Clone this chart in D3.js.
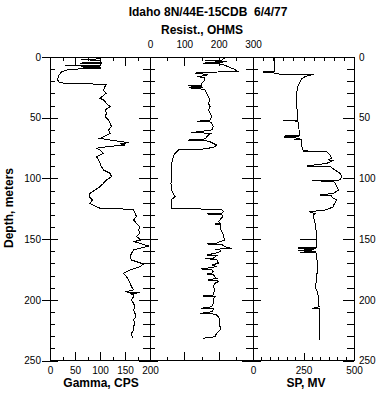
<!DOCTYPE html>
<html><head><meta charset="utf-8">
<script src="https://cdn.jsdelivr.net/npm/d3@7"></script>
<style>
body{margin:0;background:#fff;}
svg{display:block;}
text{font-family:"Liberation Sans",Arial,sans-serif;fill:#000;}
</style></head><body>
<svg id="c" width="378" height="393"></svg>
<script>
// ---------- data ----------
const chartTitle = "Idaho 8N/44E-15CDB  6/4/77";
const depthTicks = [0, 50, 100, 150, 200, 250];
const gammaTicks = [0, 50, 100, 150, 200];
const resistTicks = [0, 100, 200, 300];
const spTicks = [0, 250, 500];

const gammaDepth = [0,0.4,1.5,2.2,2.8,4.5,5,5.5,6.6,7.2,7.6,8.2,8.6,9.3,10.1,12.1,15.7,19,20.9,21.7,22.5,24.4,27.2,29.9,34,35.4,38.1,40.9,43.7,46.4,49.2,51.9,54.6,57.4,60.1,62.9,65.6,67,68.4,70.6,71.5,72.5,73.9,75.2,76.6,79.3,82.1,84.8,87.6,90.4,93.1,95.8,98.6,101.3,104,106.8,109.6,112.3,115.1,117.8,120.5,123.3,124.6,125.5,128.8,131.5,134.3,137,139.8,142.5,145.2,148,150.7,152.1,153.5,155.7,157.6,159,161.7,164.5,167.2,170.5,172.7,175.5,178.2,181,183.7,186.4,189.2,191.9,193.5,194.1,195,196,197.4,200.2,202.9,205.7,208.4,211.2,213.9,216.6,219.4,222.1,224.9,227.6,231.7];
const gammaCPS = [52,98,100,62,100,102,60,103,100,30,100,62,100,100,40,23,17,15,19,30,113,110,107,112,100,107,113,120,110,113,110,117,120,123,117,120,107,100,120,157,140,150,113,93,100,107,93,97,100,103,107,120,123,113,107,100,90,80,78,85,80,93,100,167,170,173,167,173,180,177,180,173,183,167,180,197,180,167,163,160,163,187,180,160,147,153,157,160,163,167,150,180,160,167,167,163,167,170,167,170,172,167,170,167,167,163,165];

const resistDepth = [0,1.2,2.5,3,3.5,4,4.6,5.2,5.8,6.6,8,10,12.1,12.6,13.5,14.3,15.2,16.2,17,19,21,23.1,23.5,24,24.8,25.3,25.8,26.5,27.2,29.9,32.7,35.4,38.1,40.9,43.7,46.4,49.2,51.9,53,53.6,54.6,57.4,60.1,62.3,62.8,64.3,66,67.5,68.4,69,69.8,72.5,73.9,75.2,76,76.6,79.3,82.1,87.6,93.1,98.6,104,109.6,112.3,115.1,117.8,120.5,124.8,125.5,127.4,128.9,129.3,129.7,131.5,135.6,137,137.6,138.2,139.8,142.5,145.2,148,150.7,152.1,153.5,154,154.5,156.2,157.6,158.4,159,160.4,161.7,163.1,163.6,165.8,166.2,166.7,169.9,171.3,172.7,174.6,175.2,176.8,178.2,178.7,179.3,181,182.3,183.7,184.3,185.1,186.4,189.2,191.9,194.6,196,196.9,197.4,200.2,202.9,205.7,207,207.5,208.4,209.8,211.2,211.8,212.5,213.9,216.6,219.4,222.1,224.9,227.6,230.4,231.7];
const resistOhms = [205,215,209,160,210,225,165,155,205,215,228,245,257,140,131,168,165,137,160,160,152,150,112,150,115,155,120,155,160,165,170,175,170,175,170,175,180,175,136,178,180,184,180,121,178,170,165,160,112,162,175,194,189,170,150,83,73,68,63,63,63,61,63,68,73,61,63,63,209,214,209,165,209,212,199,204,189,204,204,207,212,214,218,204,194,165,209,218,238,189,204,204,189,165,194,184,160,194,199,180,194,150,180,184,180,165,184,189,194,170,196,199,189,184,189,184,184,155,189,184,184,180,150,184,184,180,146,190,194,199,204,201,204,204,194,189,155];

const spDepth = [0,12,12.1,12.5,12.8,13.2,14,14.1,16.2,18,20.3,24.4,29.9,35.4,40.9,46.4,51.9,52.3,52.8,54.6,60.1,64.3,65.1,65.6,66.2,66.6,67,67.8,68.2,71.1,76.6,77.2,77.6,78,80.7,83.5,84.8,85.2,87.6,89.8,90.2,93.1,95.8,98.6,101.3,101.9,102.5,104,106.8,109.6,112.3,113.7,114.2,115.1,116.4,117.8,120.5,121.9,123.3,124.6,126,126.6,127.4,128.2,128.8,130.1,131.5,134.3,137,139.8,142.5,150,150.2,150.6,156.6,156.8,157.3,157.6,158,159.5,159.9,160.9,161.3,164.5,169.9,175.5,181,186.4,189.2,191.9,197.4,202.9,205.7,207,207.4,208.4,219.4,233.1];
const spMV = [106,106,51,106,51,106,106,299,257,240,233,221,216,216,216,221,221,150,221,225,228,230,155,230,155,205,233,205,238,238,246,274,249,365,381,390,373,398,365,266,381,406,431,439,431,290,398,406,414,423,398,332,390,390,398,414,406,398,398,381,357,324,282,290,307,299,299,304,307,310,312,312,233,312,312,224,312,224,312,224,312,233,312,315,319,319,315,312,307,315,324,324,327,294,327,327,329,329];

// ---------- layout ----------
const svg = d3.select('#c');
const yTop = 57, yBot = 360.5;
const y = d3.scaleLinear().domain([0, 250]).range([yTop, yBot]);
const minorDepth = d3.range(0, 251, 10);

const panels = [
  {x0: 50, x1: 150, domain: [0, 200], depth: gammaDepth, vals: gammaCPS},
  {x0: 150, x1: 253, domain: [0, 300], depth: resistDepth, vals: resistOhms},
  {x0: 253, x1: 354, domain: [0, 500], depth: spDepth, vals: spMV}
];
panels.forEach(p => { p.x = d3.scaleLinear().domain(p.domain).range([p.x0, p.x1]); });

const noDomain = g => g.select('.domain').remove();
const axG = svg.append('g').attr('shape-rendering', 'crispEdges')
  .attr('font-family', '"Liberation Sans",Arial,sans-serif').attr('font-size', 10);

function addAxis(gen, tx, ty) {
  axG.append('g').attr('transform', `translate(${tx},${ty})`).call(gen).call(noDomain);
}

// depth ticks on each panel edge
panels.forEach((p, i) => {
  addAxis(d3.axisRight(y).tickValues(minorDepth).tickSize(5).tickFormat(''), p.x0, 0);
  addAxis(d3.axisRight(y).tickValues(depthTicks).tickSize(8).tickFormat(''), p.x0, 0);
  addAxis(d3.axisLeft(y).tickValues(minorDepth).tickSize(7).tickFormat(''), p.x1, 0);
  addAxis(d3.axisLeft(y).tickValues(depthTicks).tickSize(11).tickFormat(''), p.x1, 0);
});
// left labels with outward major ticks
addAxis(d3.axisLeft(y).tickValues(depthTicks).tickSize(8).tickPadding(1), 50, 0);
// right labels
addAxis(d3.axisRight(y).tickValues(depthTicks).tickSize(0).tickPadding(5), 354, 0);

// gamma x ticks
const pg = panels[0], pr = panels[1], ps = panels[2];
addAxis(d3.axisBottom(pg.x).tickValues(d3.range(0, 201, 25)).tickSize(-4).tickFormat(''), 0, yBot);
addAxis(d3.axisBottom(pg.x).tickValues(gammaTicks).tickSize(-9).tickPadding(6), 0, yBot);
addAxis(d3.axisTop(pg.x).tickValues(d3.range(0, 201, 25)).tickSize(-4).tickFormat(''), 0, yTop);
addAxis(d3.axisTop(pg.x).tickValues(gammaTicks).tickSize(-9).tickFormat(''), 0, yTop);
// resist ticks
addAxis(d3.axisBottom(pr.x).tickValues(d3.range(0, 301, 50)).tickSize(-4).tickFormat(''), 0, yBot);
addAxis(d3.axisBottom(pr.x).tickValues(resistTicks).tickSize(-9).tickFormat(''), 0, yBot);
addAxis(d3.axisTop(pr.x).tickValues(d3.range(0, 301, 50)).tickSize(-4).tickFormat(''), 0, yTop);
addAxis(d3.axisTop(pr.x).tickValues(resistTicks).tickSize(-9).tickPadding(9), 0, yTop);
// sp ticks
addAxis(d3.axisBottom(ps.x).tickValues(d3.range(0, 13).map(i => i * 500 / 12)).tickSize(-4).tickFormat(''), 0, yBot);
addAxis(d3.axisBottom(ps.x).tickValues([250]).tickSize(-8).tickFormat(''), 0, yBot);
addAxis(d3.axisBottom(ps.x).tickValues(spTicks).tickSize(0).tickPadding(6), 0, yBot);
addAxis(d3.axisTop(ps.x).tickValues(d3.range(0, 501, 50)).tickSize(-4).tickFormat(''), 0, yTop);

axG.selectAll('text').attr('fill', '#000');
axG.selectAll('line').attr('stroke', '#000');

// frames
svg.append('g').attr('shape-rendering', 'crispEdges').selectAll('rect').data(panels).join('rect')
  .attr('x', p => p.x0).attr('y', yTop).attr('width', p => p.x1 - p.x0).attr('height', yBot - yTop)
  .attr('fill', 'none').attr('stroke', '#000');

// traces
svg.append('g').selectAll('path').data(panels).join('path')
  .attr('d', p => d3.line().x((d, i) => p.x(p.vals[i])).y(d => y(d))(p.depth))
  .attr('fill', 'none').attr('stroke', '#000').attr('stroke-width', 1)
  .attr('shape-rendering', 'crispEdges');

// titles
const bold = s => s.attr('font-weight', 'bold').attr('font-size', 12).attr('text-anchor', 'middle');
svg.append('text').attr('x', 208).attr('y', 16).style('white-space', 'pre').text(chartTitle).call(bold);
svg.append('text').attr('x', 202).attr('y', 34).text('Resist., OHMS').call(bold);
svg.append('text').attr('x', 101).attr('y', 387).text('Gamma, CPS').call(bold);
svg.append('text').attr('x', 306).attr('y', 387).text('SP, MV').call(bold);
svg.append('text').attr('transform', 'translate(13,208) rotate(-90)').text('Depth, meters').call(bold);
</script>
</body></html>
